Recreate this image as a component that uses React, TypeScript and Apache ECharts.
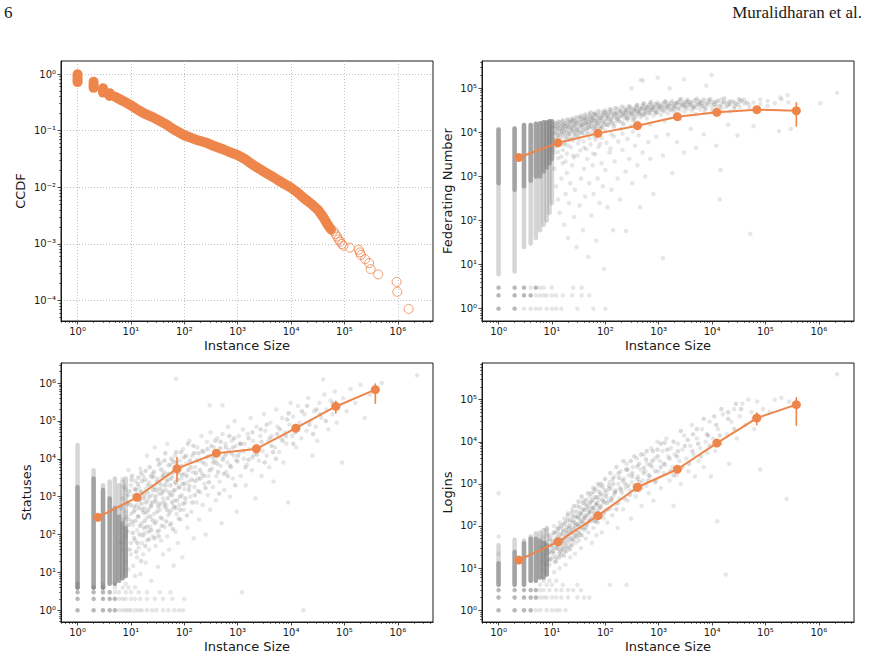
import React, { useEffect, useRef } from "react";
import * as echarts from "echarts";

type Pair = [number, number];

const ORANGE = "#EE854A";
const INK = "#1a1a1a";
const FONT = "DejaVu Sans";

// ---------- Panel 1: CCDF of instance size ----------
const ccdfHeadSize = [1, 2, 3, 4];
const ccdfHeadTop = [0.99, 0.73, 0.56, 0.46];
const ccdfHeadBottom = [0.72, 0.57, 0.47, 0.41];

const ccdfBody: Pair[] = [
  [5, 0.4], [6.3, 0.355], [8, 0.315], [10, 0.28], [13, 0.24], [18, 0.2], [25, 0.175],
  [32, 0.155], [45, 0.13], [63, 0.105], [100, 0.083], [160, 0.07], [250, 0.062],
  [320, 0.056], [500, 0.048], [700, 0.042], [1000, 0.037], [1400, 0.031], [1800, 0.026],
  [2400, 0.022], [3200, 0.0186], [4500, 0.0155], [5600, 0.0135], [7500, 0.0115],
  [10000, 0.0098], [13000, 0.0082], [18000, 0.0063], [24000, 0.0051], [32000, 0.004],
  [40000, 0.003], [50000, 0.0021], [56000, 0.0018],
];

const ccdfTail: Pair[] = [
  [62000, 0.0017], [68000, 0.0015], [73000, 0.00135], [78000, 0.0012], [83000, 0.0011],
  [90000, 0.001], [96000, 0.00093], [126000, 0.00086], [186000, 0.00079], [195000, 0.00071],
  [204000, 0.00064], [245000, 0.00054], [290000, 0.00046], [310000, 0.00036],
  [430000, 0.00029], [950000, 0.000214], [980000, 0.000143], [1600000, 0.0000714],
];

// ---------- Binned means shared by the three scatter panels ----------
const binSize = [2.4, 13, 73, 400, 2240, 12300, 69000, 380000];

const fedMean = [2700, 5800, 9500, 14200, 22700, 28500, 32700, 31000];
const fedLow = [2550, 5550, 9100, 13600, 21500, 27000, 30500, 13900];
const fedHigh = [2850, 6050, 9900, 14800, 23900, 30000, 35000, 47000];

const statMean = [284, 962, 5500, 14100, 18300, 64500, 241000, 668000];
const statLow = [240, 840, 2600, 11500, 15500, 52000, 162000, 295000];
const statHigh = [330, 1100, 10800, 17000, 21500, 80000, 331000, 944000];

const logMean = [15.5, 42, 176, 832, 2220, 9300, 36500, 76000];
const logLow = [14, 38, 160, 760, 2000, 8400, 25300, 24500];
const logHigh = [17, 46, 194, 910, 2450, 10300, 48000, 110000];

// ---------- Federating number ----------
const fedColSize = [1, 2, 3, 4, 5, 6, 7, 8, 9, 10];
const fedColFaintLow = [6, 7, 25, 30, 40, 60, 80, 100, 150, 250];
const fedColFaintHigh = [11700, 12300, 14700, 14700, 15800, 16200, 17000, 17000, 17800, 17800];
const fedColDenseLow = [700, 500, 600, 800, 1000, 1000, 1300, 1600, 2000, 2500];
const fedColDenseHigh = [11700, 12300, 14700, 14700, 15800, 16200, 17000, 17000, 17800, 17800];

const fedDotsDense: Pair[] = [
  [1, 1], [1, 2], [1, 3], [2, 1], [2, 2], [2, 3], [3, 2], [3, 3], [4, 2], [5, 3],
];
const fedDotsSparse: Pair[] = [
  [3, 1], [4, 1], [5, 1], [6, 1], [8, 1], [10, 1], [12, 1], [15, 1], [30, 1], [60, 1], [100, 1],
  [5, 2], [6, 2], [7, 2], [8, 2], [10, 2], [12, 2], [16, 2], [24, 2], [36, 2], [50, 2],
  [4, 3], [6, 3], [7, 3], [10, 3], [25, 3], [36, 3],
];
const fedCloud: Pair[] = [
  [11, 6000], [11, 9000], [11, 14000], [11, 3500], [12, 11000], [12, 16000], [12, 7500], [12, 4800],
  [13, 13000], [13, 8500], [13, 2600], [14, 17000], [14, 10000], [14, 6200], [14, 12000],
  [16, 15000], [16, 9000], [16, 4000], [16, 19000], [18, 12000], [18, 7000], [18, 16000], [18, 2200],
  [20, 18000], [20, 11000], [20, 8000], [20, 5000], [22, 14000], [22, 20000], [22, 9500],
  [25, 16000], [25, 12000], [25, 6500], [25, 21000], [25, 3000], [28, 13000], [28, 18000], [28, 9000],
  [32, 22000], [32, 15000], [32, 10500], [32, 7000], [36, 17000], [36, 12500], [36, 24000],
  [40, 19000], [40, 14000], [40, 8500], [40, 4500], [45, 23000], [45, 16000], [45, 11000],
  [50, 20000], [50, 26000], [50, 13000], [50, 7500], [56, 18000], [56, 22000], [56, 10000],
  [63, 25000], [63, 15000], [63, 28000], [63, 8000], [70, 17000], [70, 21000], [70, 12000],
  [80, 27000], [80, 19000], [80, 14000], [80, 5500], [90, 23000], [90, 30000], [90, 16000],
  [100, 25000], [100, 18000], [100, 11000], [100, 32000], [115, 21000], [115, 28000], [115, 14500],
  [130, 26000], [130, 19000], [130, 33000], [130, 9000], [150, 22000], [150, 30000], [150, 16000],
  [170, 27000], [170, 20000], [170, 35000], [200, 24000], [200, 31000], [200, 17000], [200, 12000],
  [230, 28000], [230, 21000], [230, 36000], [260, 25000], [260, 33000], [260, 19000],
  [300, 30000], [300, 23000], [300, 38000], [300, 14000], [350, 27000], [350, 34000], [350, 20000],
  [400, 31000], [400, 25000], [400, 42000], [400, 17000], [460, 28000], [460, 36000], [460, 22000],
  [530, 33000], [530, 26000], [530, 44000], [600, 30000], [600, 38000], [600, 21000],
  [700, 35000], [700, 27000], [700, 46000], [700, 15000], [800, 32000], [800, 40000], [800, 24000],
  [950, 36000], [950, 29000], [950, 48000], [1100, 33000], [1100, 43000], [1100, 25000],
  [1300, 38000], [1300, 30000], [1300, 50000], [1300, 18000], [1500, 35000], [1500, 45000], [1500, 27000],
  [1800, 40000], [1800, 31000], [1800, 52000], [2100, 37000], [2100, 47000], [2100, 28000],
  [2500, 42000], [2500, 33000], [2500, 55000], [2500, 20000], [3000, 38000], [3000, 48000], [3000, 30000],
  [3500, 43000], [3500, 34000], [3500, 56000], [4200, 40000], [4200, 50000], [4200, 31000],
  [5000, 44000], [5000, 36000], [5000, 26000], [6000, 41000], [6000, 52000], [6000, 33000],
  [7200, 46000], [7200, 37000], [7200, 29000], [8500, 42000], [8500, 54000], [10000, 45000],
  [10000, 36000], [10000, 30000], [12000, 48000], [12000, 40000], [15000, 44000], [15000, 35000],
  [15000, 56000], [18000, 47000], [18000, 38000], [22000, 43000], [22000, 52000], [22000, 30000],
  [27000, 46000], [27000, 40000], [33000, 50000], [33000, 38000], [40000, 45000], [40000, 55000],
  [50000, 42000], [50000, 35000], [60000, 48000], [80000, 44000], [80000, 56000], [110000, 52000],
  [110000, 40000], [150000, 46000], [200000, 56000], [270000, 48000],
  [10.5, 4200], [13, 3600], [15, 2800], [17, 5200], [19, 3300], [23, 4600], [26, 2700], [31, 5600],
  [34, 3900], [39, 6400], [44, 4200], [53, 5300], [59, 3300], [66, 6900], [75, 4700], [86, 7600],
  [105, 5800], [125, 4300], [145, 8200], [175, 6200], [210, 9400], [260, 7100], [330, 10400],
  [420, 8600],
  [11, 1500], [12, 600], [13, 300], [14, 150], [15, 900], [16, 2000], [17, 80], [18, 400], [19, 1200],
  [20, 40], [21, 250], [22, 700], [24, 1800], [26, 120], [27, 500], [29, 25], [30, 3000], [33, 220],
  [35, 900], [38, 60], [40, 1500], [42, 350], [46, 2500], [48, 15], [50, 700], [55, 130], [58, 1800],
  [60, 400], [65, 3200], [68, 35], [72, 900], [78, 250], [85, 2000], [90, 600], [95, 8], [100, 1400],
  [110, 200], [120, 3500], [130, 500], [140, 60], [150, 2200], [170, 900], [190, 300], [210, 4000],
  [240, 1300], [245, 58], [280, 2500], [320, 700], [360, 5000], [400, 1800], [450, 200], [500, 3500],
  [560, 1000], [640, 6000], [700, 2500], [800, 400], [900, 8000], [1200, 14], [1200, 3000],
  [1500, 9000], [1800, 1200], [2200, 6000], [3000, 3500], [4000, 12000], [5000, 4500], [7000, 9000],
  [14000, 300], [14500, 1400], [12000, 5000], [20000, 15000], [30000, 8500], [52000, 50],
  [60000, 14000], [180000, 10700], [300000, 12000], [1070000, 46000], [2200000, 79000],
  [310, 100000], [460, 155000], [510, 150000], [960, 175000], [1600, 100000], [3000, 160000],
  [7800, 115000], [9800, 200000], [190000, 62000], [260000, 70000],
];
const fedCloudCore: Pair[] = [
  [10.5, 9500], [11.5, 12500], [12.5, 5200], [13.5, 15000], [14.5, 7800], [15.5, 11000], [16.5, 13500],
  [17.5, 5800], [19, 9800], [19.5, 14500], [21, 6800], [21.5, 16500], [23, 11500], [23.5, 7200],
  [24, 19000], [26, 14200], [27, 10000], [29, 16800], [30, 12000], [31, 8200], [34, 13800], [35, 19500],
  [37, 9800], [38, 15500], [41, 21500], [43, 12200], [44, 17500], [47, 9400], [49, 14800], [52, 23500],
  [54, 16800], [58, 12500], [60, 20500], [61, 26000], [66, 14000], [68, 18500], [73, 24000], [75, 10500],
  [77, 16500], [84, 21000], [87, 13000], [95, 27500], [98, 15000], [105, 20500], [110, 24500],
  [120, 17000], [125, 29000], [140, 23500], [145, 13500], [160, 27000], [165, 19500], [185, 31500],
  [190, 22500], [215, 26500], [220, 15500], [245, 30000], [250, 22000], [280, 27500], [290, 35000],
  [320, 25500], [330, 19000], [370, 31000], [380, 37000], [430, 27000], [440, 33500], [490, 24500],
  [500, 40000], [560, 31000], [570, 36000], [650, 27500], [660, 42000], [750, 33000], [760, 38500],
  [870, 29500], [880, 44000], [1000, 35000], [1050, 39000], [1200, 31500], [1250, 45500], [1400, 36500],
  [1450, 41000], [1650, 33000], [1700, 47000], [1950, 38500], [2000, 43500], [2300, 35000],
  [2350, 49000], [2700, 40500], [2800, 45500], [3200, 37000], [3300, 51000], [3800, 42000],
  [4000, 46500], [4600, 38500], [4800, 53000], [5500, 43000], [5800, 48000], [6600, 39500],
  [7000, 55000], [8000, 45000], [9000, 50000], [11000, 42500], [13000, 52000], [16500, 48500],
  [20000, 41000], [25000, 50000], [30000, 44000], [36000, 53000], [45000, 47000],
  [10.2, 13000], [10.8, 7000], [11.2, 16500], [11.8, 10200], [12.2, 13800], [12.8, 8800], [13.2, 17500],
  [13.8, 11800], [14.2, 5400], [15, 14200], [15.2, 9600], [15.8, 17800], [16.2, 12200], [17, 10400],
  [17.2, 15800], [17.8, 8200], [18.5, 13600], [19.2, 19500], [20.5, 12800], [21.2, 9200], [22.5, 17200],
  [23.2, 13200], [24.5, 10800], [25.5, 18500], [26.5, 8400], [27.5, 15200], [28.5, 21800], [29.5, 11200],
  [31.5, 17600], [33, 9800], [34.5, 22500], [36.5, 14800], [38.5, 11200], [39.5, 19800], [42, 25500],
  [43.5, 15800], [46, 20200], [48, 12800], [51, 17800], [53, 28500], [55, 14200], [57, 21200],
  [62, 18200], [64, 11800], [67, 25500], [71, 15200], [74, 30500], [79, 20800], [82, 12400], [88, 24200],
  [92, 17600], [102, 28800], [108, 14800], [112, 22800], [122, 33500], [128, 20000], [135, 16200],
  [148, 26800], [155, 35500], [168, 23200], [180, 18200], [195, 28800], [205, 38500], [225, 24800],
  [240, 32200], [265, 20800], [275, 39500], [310, 28200], [340, 33200], [360, 22500], [390, 41500],
  [420, 29200], [480, 34200], [520, 46000], [550, 25800], [620, 37200], [680, 31800], [720, 49000],
  [820, 36200], [900, 27600], [980, 42200], [1150, 37800], [1350, 51000], [1600, 40200], [1900, 33800],
  [2200, 46200], [2600, 57000], [3100, 41800], [3600, 49800], [4400, 36000], [5200, 58000],
  [6300, 46800], [7600, 34500], [9200, 57500], [11000, 49500], [14000, 39000], [17000, 59000],
  [21000, 47500], [26000, 36000], [32000, 57000],
];

// ---------- Statuses ----------
const statColSize = [1, 2, 3, 4, 5, 6, 7, 8];
const statColFaintLow = [4, 4, 4, 5, 5, 6, 7, 8];
const statColFaintHigh = [23000, 5000, 2000, 2500, 3000, 2000, 2500, 3000];
const statColDenseLow = [4, 4, 4, 5, 5, 6, 7, 8];
const statColDenseHigh = [1800, 3000, 1500, 900, 500, 300, 200, 150];

const statDotsDense: Pair[] = [
  [1, 1], [1, 2], [1, 3], [1, 4], [1, 5], [2, 1], [2, 2], [2, 3], [2, 4], [3, 1], [3, 2], [3, 3],
  [3, 4], [4, 1], [4, 2], [4, 3], [5, 1], [5, 2],
];
const statDotsSparse: Pair[] = [
  [6, 1], [7, 1], [8, 1], [9, 1], [10, 1], [12, 1], [14, 1], [16, 1], [20, 1], [25, 1], [30, 1],
  [40, 1], [50, 1], [65, 1], [80, 1], [95, 1], [6, 2], [7, 2], [8, 2], [10, 2], [12, 2], [15, 2],
  [20, 2], [28, 2], [40, 2], [60, 2], [100, 2], [5, 3], [6, 3], [8, 3], [10, 3], [14, 3], [20, 3],
  [35, 3], [55, 3], [5, 4], [7, 4], [9, 4], [12, 4], [3, 5], [5, 5], [8, 5],
];
const statCloud: Pair[] = [
  [7, 150], [7, 900], [7, 40], [7, 3000], [8, 20], [8, 400], [8, 1500], [8, 90], [9, 12], [9, 250],
  [9, 700], [9, 5000], [10, 60], [10, 2000], [10, 30], [10, 350], [11, 15], [11, 1100], [11, 180],
  [12, 450], [12, 8], [12, 2600], [12, 70], [13, 25], [13, 600], [13, 130], [14, 1800], [14, 45],
  [14, 300], [15, 9], [15, 900], [15, 5500], [16, 200], [16, 60], [16, 1300], [17, 30], [17, 3500],
  [18, 500], [18, 110], [19, 18], [19, 1600], [20, 280], [20, 12000], [20, 70], [21, 800], [22, 2400],
  [22, 40], [23, 160], [24, 600], [24, 6], [25, 1100], [25, 4000], [26, 90], [27, 350], [28, 20000],
  [28, 1800], [29, 50], [30, 700], [30, 220], [32, 3000], [32, 14], [33, 1200], [34, 130], [35, 450],
  [36, 8000], [37, 70], [38, 2000], [39, 260], [40, 900], [40, 30], [42, 4500], [43, 160], [45, 1500],
  [46, 600], [48, 25000], [48, 90], [50, 2800], [50, 320], [52, 40], [54, 1100], [56, 7000], [57, 200],
  [58, 450], [60, 3500], [62, 1400], [63, 15], [65, 800], [67, 12000], [68, 120], [70, 2200], [72, 350],
  [74, 5000], [76, 60], [78, 1700], [80, 600], [82, 9000], [85, 250], [88, 3000], [90, 1100], [92, 25],
  [95, 18000], [97, 450], [100, 4000], [100, 1600], [105, 700], [110, 7500], [115, 150], [120, 2500],
  [125, 30000], [130, 1000], [135, 400], [140, 12000], [145, 4500], [150, 80], [155, 1800], [160, 6000],
  [170, 700], [175, 20000], [180, 3000], [190, 250], [195, 9000], [200, 1300], [210, 40000], [215, 4000],
  [220, 600], [230, 15000], [240, 2200], [250, 100], [255, 7000], [265, 28000], [275, 1100], [285, 3500],
  [295, 12000], [305, 450], [310, 50000], [330, 5500], [345, 1800], [360, 20000], [375, 9000], [390, 800],
  [400, 3500], [420, 35000], [440, 14000], [460, 2500], [480, 6500], [500, 200], [520, 45000],
  [540, 11000], [560, 1500], [590, 25000], [610, 4500], [640, 8000], [660, 70000], [690, 17000],
  [720, 1000], [750, 6000], [780, 30000], [810, 3000], [850, 12000], [880, 100000], [920, 22000],
  [960, 400], [1000, 8500], [1050, 40000], [1100, 15000], [1150, 3500], [1200, 3], [1250, 60000],
  [1300, 10000], [1350, 25000], [1420, 2000], [1500, 7000], [1550, 45000], [1650, 18000],
  [1750, 120000], [1850, 5000], [1950, 30000], [2050, 13000], [2150, 900], [2250, 70000], [2400, 22000],
  [2500, 9000], [2650, 40000], [2800, 3500], [2950, 16000], [3100, 150000], [3300, 55000], [3500, 12000],
  [3700, 28000], [3900, 6000], [4100, 90000], [4400, 40000], [4700, 2500], [5000, 20000], [5300, 200000],
  [5600, 70000], [6000, 15000], [6400, 35000], [6800, 120000], [7200, 8000], [7700, 50000], [8200, 25000],
  [8800, 700], [9300, 80000], [9800, 300000], [10500, 40000], [11000, 130000], [11800, 60000],
  [12500, 20000], [13500, 250000], [14500, 90000], [15500, 35000], [17000, 1], [18000, 150000],
  [19500, 55000], [21000, 400000], [23000, 100000], [25000, 12000], [27000, 180000], [29000, 70000],
  [31000, 30000], [34000, 300000], [37000, 120000], [40000, 1250000], [42000, 500000], [46000, 200000],
  [50000, 60000], [55000, 350000], [60000, 150000], [66000, 600000], [72000, 90000], [80000, 250000],
  [90000, 8000], [95000, 400000], [110000, 180000], [130000, 700000], [160000, 300000], [200000, 900000],
  [240000, 120000], [300000, 500000], [500000, 1000000], [2300000, 1600000], [70, 1300000],
  [300, 260000], [520, 260000],
];
const statCloudCore: Pair[] = [
  [6.5, 500], [6.5, 60], [7.5, 250], [7.5, 1800], [8.5, 120], [8.5, 650], [9.5, 40], [9.5, 1400],
  [10.5, 220], [10.5, 3500], [11.5, 80], [11.5, 550], [12.5, 1500], [12.5, 35], [13.5, 300],
  [13.5, 2200], [14.5, 100], [14.5, 800], [15.5, 20], [15.5, 4200], [16.5, 450], [17.5, 150],
  [17.5, 900], [18.5, 2800], [18.5, 50], [19.5, 380], [20.5, 1300], [21.5, 120], [22.5, 6000],
  [23.5, 550], [24.5, 1900], [25.5, 240], [26.5, 3300], [27.5, 80], [28.5, 800], [29.5, 1500],
  [31, 400], [32, 9500], [33, 90], [34, 2300], [35, 650], [37, 5200], [38, 170], [40, 1400], [41, 3800],
  [43, 550], [44, 14000], [46, 220], [47, 2600], [49, 900], [51, 6800], [53, 380], [55, 2000],
  [57, 10000], [59, 700], [61, 140], [63, 4500], [66, 1500], [69, 500], [71, 8000], [75, 2800],
  [79, 260], [83, 1000], [87, 15000], [91, 3800], [96, 650], [102, 2200], [108, 12000], [112, 320],
  [118, 5000], [123, 1500], [128, 9000], [138, 2800], [148, 22000], [158, 1100], [165, 4200],
  [185, 14000], [200, 3000], [225, 8000], [250, 1700], [270, 18000], [300, 5000], [340, 11000],
  [380, 30000], [410, 7500], [450, 1200], [470, 19000], [550, 4000], [600, 13000], [700, 40000],
  [730, 6500], [820, 20000], [900, 2000], [1020, 12000], [1150, 25000], [1400, 6000], [1600, 35000],
  [1900, 11000], [2200, 22000], [2700, 60000], [3200, 8000], [4000, 35000], [4600, 15000],
  [5500, 45000], [7000, 30000], [8500, 110000], [12000, 50000], [16000, 180000], [22000, 80000],
  [30000, 200000], [45000, 100000],
  [8.2, 300], [8.8, 1100], [9.2, 180], [9.8, 600], [10.2, 2800], [10.8, 110], [11.2, 400], [11.8, 1600],
  [12.2, 230], [12.8, 900], [13.2, 60], [13.8, 3200], [14.2, 500], [14.8, 170], [15.2, 1400], [15.8, 650],
  [16.2, 2600], [16.8, 95], [17.2, 380], [17.8, 1100], [18.2, 230], [18.8, 4800], [19.2, 700],
  [19.8, 160], [20.8, 2000], [21.2, 450], [21.8, 75], [22.2, 1000], [23, 300], [23.8, 3400], [24.2, 130],
  [25, 700], [26, 1500], [27, 4500], [28, 200], [29, 1000], [30.5, 2500], [31.5, 120], [32.5, 550],
  [33.5, 7000], [34.5, 1600], [36, 280], [37.5, 1200], [39, 3300], [41.5, 700], [42.5, 9000],
  [44.5, 2000], [47.5, 450], [49.5, 4000], [52, 1300], [54.5, 180], [56.5, 3000], [59.5, 1100],
  [62, 8500], [64.5, 550], [67.5, 2400], [70.5, 15000], [73, 800], [77, 4200], [81, 1800], [84, 450],
  [89, 6500], [93, 2200], [99, 11000], [104, 900], [111, 3500], [117, 25000], [124, 1900], [131, 6000],
  [142, 700], [152, 14000], [162, 2600], [172, 9000], [182, 1400], [198, 5000], [218, 16000],
  [235, 3500], [262, 11000], [290, 2400], [320, 22000], [350, 8000], [400, 15000], [430, 4500],
  [480, 28000], [530, 9500], [600, 20000], [650, 3500], [760, 14000], [860, 35000], [950, 9000],
  [1100, 25000], [1300, 16000], [1600, 9500], [1900, 50000], [2300, 13000], [2800, 28000],
  [3500, 80000], [4300, 22000], [5200, 10000], [6200, 60000], [8000, 40000], [9000, 160000],
  [11000, 25000], [14000, 70000], [20000, 250000], [26000, 45000], [35000, 150000], [60000, 300000],
];

// ---------- Logins ----------
const logColSize = [1, 2, 3, 4, 5, 6, 7, 8];
const logColFaintLow = [4, 4, 4, 5, 5, 6, 6, 7];
const logColFaintHigh = [35, 47, 45, 56, 67, 70, 80, 90];
const logColDenseLow = [4, 4, 4, 5, 5, 6, 6, 7];
const logColDenseHigh = [13, 24, 39, 50, 50, 45, 40, 35];

const logDotsDense: Pair[] = [
  [1, 1], [1, 2], [1, 3], [2, 1], [2, 2], [2, 3], [3, 1], [3, 2], [3, 3], [4, 1], [4, 2], [4, 3],
  [5, 2], [5, 3],
];
const logDotsSparse: Pair[] = [
  [5, 1], [6, 1], [8, 1], [10, 1], [12, 1], [14, 1], [18, 1], [6, 2], [7, 2], [8, 2], [10, 2], [12, 2],
  [15, 2], [20, 2], [30, 2], [40, 2], [50, 2], [6, 3], [7, 3], [9, 3], [12, 3], [15, 3], [20, 3], [25, 3],
  [35, 3], [6, 4], [8, 4], [10, 4], [16, 4], [30, 4], [122, 4], [250, 4], [7, 5], [9, 5], [12, 5],
];
const logCloud: Pair[] = [
  [1, 600], [1, 56], [1, 22], [7, 20], [7, 55], [7, 9], [8, 35], [8, 14], [8, 80], [9, 25], [9, 45],
  [9, 12], [10, 18], [10, 60], [10, 30], [11, 100], [11, 22], [11, 8], [12, 40], [12, 15], [13, 70],
  [13, 28], [14, 50], [14, 120], [14, 10], [15, 35], [15, 20], [16, 85], [16, 45], [17, 25], [17, 150],
  [18, 60], [18, 12], [19, 40], [19, 95], [20, 30], [20, 200], [21, 70], [22, 18], [22, 120], [23, 50],
  [24, 250], [24, 35], [25, 90], [26, 60], [27, 160], [27, 22], [28, 40], [29, 110], [30, 300], [30, 70],
  [32, 45], [33, 150], [34, 90], [35, 30], [36, 220], [37, 60], [38, 130], [39, 400], [40, 80],
  [42, 180], [43, 50], [45, 110], [46, 300], [48, 70], [50, 200], [52, 500], [54, 130], [56, 40],
  [58, 260], [60, 90], [62, 650], [64, 170], [66, 330], [68, 60], [70, 220], [73, 120], [76, 420],
  [78, 900], [80, 180], [83, 280], [86, 70], [90, 550], [93, 150], [96, 350], [100, 230], [105, 600],
  [110, 120], [115, 400], [120, 1100], [125, 260], [130, 800], [135, 180], [140, 500], [148, 1500],
  [155, 330], [160, 700], [170, 90], [175, 1000], [185, 450], [195, 2000], [205, 600], [215, 250],
  [225, 1300], [240, 800], [250, 3000], [260, 400], [275, 1600], [290, 700], [305, 150], [315, 1100],
  [330, 2500], [350, 900], [370, 500], [390, 4000], [410, 1500], [430, 700], [455, 2200], [480, 300],
  [500, 1200], [530, 5000], [560, 2000], [590, 900], [620, 3000], [650, 600], [690, 1500], [720, 7000],
  [760, 2500], [800, 400], [850, 4000], [900, 1200], [950, 10000], [990, 2000], [1050, 3500],
  [1100, 800], [1180, 6000], [1250, 1800], [1330, 2800], [1400, 12000], [1500, 4500], [1600, 1200],
  [1700, 7000], [1800, 2500], [1900, 300], [2000, 5000], [2150, 1600], [2300, 9000], [2450, 3500],
  [2600, 1000], [2800, 6500], [3000, 14000], [3300, 4000], [3600, 2000], [3900, 8000], [4200, 25000],
  [4500, 5000], [4800, 1500], [5200, 12000], [5600, 3500], [6000, 7000], [6500, 20000], [7000, 2500],
  [7600, 10000], [8200, 5500], [9000, 30000], [9500, 1500], [10500, 12000], [11500, 6000], [12500, 130],
  [13000, 20000], [14500, 9000], [16000, 45000], [18000, 7], [19000, 15000], [21000, 3000],
  [23000, 30000], [26000, 60000], [29000, 12000], [33000, 40000], [37000, 80000], [42000, 25000],
  [48000, 100000], [55000, 50000], [62000, 20000], [70000, 90000], [80000, 2200], [90000, 60000],
  [120000, 50000], [150000, 100000], [200000, 110000], [250000, 440], [280000, 90000],
  [2200000, 400000],
];
const logCloudCore: Pair[] = [
  [6.5, 15], [6.5, 30], [7.5, 12], [7.5, 40], [8.5, 22], [8.5, 60], [9.5, 16], [9.5, 35], [10.5, 25],
  [10.5, 45], [11.5, 14], [11.5, 70], [12.5, 30], [12.5, 55], [13.5, 18], [13.5, 90], [14.5, 40],
  [14.5, 25], [15.5, 65], [16.5, 30], [16.5, 110], [17.5, 50], [18.5, 80], [18.5, 25], [19.5, 140],
  [20.5, 45], [21.5, 100], [22.5, 35], [23.5, 70], [24.5, 170], [25.5, 50], [26.5, 120], [27.5, 80],
  [28.5, 220], [29.5, 55], [31, 160], [32, 100], [33, 280], [34, 60], [35, 190], [37, 120], [38, 350],
  [40, 150], [41, 240], [43, 90], [44, 420], [46, 180], [47, 270], [49, 130], [51, 350], [53, 220],
  [55, 600], [57, 160], [59, 420], [61, 260], [63, 130], [65, 750], [68, 320], [71, 480], [74, 200],
  [77, 650], [81, 300], [85, 1000], [89, 420], [94, 200], [99, 700], [108, 350], [118, 900],
  [128, 450], [138, 1300], [150, 600], [162, 250], [178, 1800], [190, 800], [210, 1200], [230, 450],
  [245, 2200], [270, 900], [300, 3500], [320, 1500], [360, 700], [400, 2600], [440, 1100], [470, 5000],
  [520, 1800], [580, 3800], [640, 1200], [700, 2800], [780, 6000], [870, 2000], [960, 4500],
  [1100, 9000], [1250, 3000], [1450, 6500], [1650, 2000], [1900, 10000], [2200, 4500], [2600, 18000],
  [3100, 8000], [3700, 3000], [4400, 15000], [5500, 9000], [7000, 35000], [8500, 14000],
  [12000, 25000], [15000, 60000], [20000, 35000], [28000, 80000],
  [8.2, 28], [8.8, 16], [9.2, 50], [9.8, 24], [10.2, 38], [10.8, 70], [11.2, 30], [11.8, 18],
  [12.2, 48], [12.8, 85], [13.2, 35], [13.8, 22], [14.2, 60], [14.8, 100], [15.2, 28], [15.8, 45],
  [16.2, 75], [16.8, 20], [17.2, 38], [17.8, 120], [18.2, 55], [18.8, 32], [19.2, 70], [19.8, 180],
  [20.8, 90], [21.2, 55], [21.8, 28], [22.2, 140], [23, 80], [23.8, 210], [24.2, 45], [25, 130],
  [26, 300], [27, 100], [28, 60], [29, 170], [30.5, 110], [31.5, 380], [32.5, 70], [33.5, 200],
  [34.5, 130], [36, 500], [37.5, 90], [39, 250], [41.5, 160], [42.5, 330], [44.5, 110], [47.5, 600],
  [49.5, 220], [52, 140], [54.5, 380], [56.5, 280], [59.5, 800], [62, 200], [64.5, 480], [67.5, 130],
  [70.5, 350], [73, 1000], [77, 260], [81, 560], [84, 180], [89, 850], [93, 380], [99, 1300],
  [104, 500], [111, 250], [117, 750], [124, 1800], [131, 400], [142, 1000], [152, 650], [162, 2500],
  [172, 350], [182, 1400], [198, 700], [218, 3500], [235, 1000], [262, 2200], [290, 550], [320, 1800],
  [350, 4500], [400, 1300], [430, 3000], [480, 800], [530, 2400], [600, 6000], [650, 1600], [760, 3500],
  [860, 1100], [950, 6500], [1100, 2500], [1300, 9500], [1600, 4000], [1900, 1600], [2300, 6000],
  [2800, 2500], [3500, 11000], [4300, 6000], [5200, 20000], [6200, 4500], [8000, 15000], [9000, 8000],
  [11000, 40000], [14000, 14000], [20000, 50000], [26000, 20000], [35000, 60000], [60000, 35000],
];

// ---------- helpers ----------
const SUP: Record<string, string> = {
  "-": "\u207B", "0": "\u2070", "1": "\u00B9", "2": "\u00B2", "3": "\u00B3",
  "4": "\u2074", "5": "\u2075", "6": "\u2076", "7": "\u2077", "8": "\u2078", "9": "\u2079",
};
const powLabel = (v: number) =>
  "10" + String(Math.round(v)).split("").map((c) => SUP[c] ?? c).join("");

const lg = (v: number) => Math.log10(v);
const logPair = (p: Pair): Pair => [lg(p[0]), lg(p[1])];

const range = (a: number, b: number) => {
  const out: number[] = [];
  for (let i = a; i <= b; i++) out.push(i);
  return out;
};
const minorTicks = (min: number, max: number) => {
  const out: number[] = [];
  for (let n = Math.floor(min); n <= Math.ceil(max); n++) {
    for (let k = 2; k <= 9; k++) {
      const v = n + Math.log10(k);
      if (v > min && v < max) out.push(v);
    }
  }
  return out;
};

const X_MIN = -0.31;
const X_MAX = 6.66;

function majorAxis(
  dim: "x" | "y",
  gridIndex: number,
  min: number,
  max: number,
  ticks: number[],
  name: string,
  nameGap: number,
  gridLines: boolean
) {
  return {
    type: "value",
    gridIndex,
    min,
    max,
    position: dim === "x" ? "bottom" : "left",
    name,
    nameLocation: "middle",
    nameGap,
    nameTextStyle: { fontFamily: FONT, fontSize: 13, color: INK },
    axisLine: { show: true, onZero: false, lineStyle: { color: INK, width: 1 } },
    axisTick: {
      show: true,
      inside: false,
      length: 3.5,
      customValues: ticks,
      lineStyle: { color: INK, width: 0.8 },
    },
    axisLabel: {
      show: true,
      customValues: ticks,
      formatter: (v: number) => powLabel(v),
      fontFamily: FONT,
      fontSize: 10,
      color: INK,
      margin: 5,
    },
    splitLine: {
      show: gridLines,
      lineStyle: { color: "#b0b0b0", type: [1, 2], width: 0.8 },
    },
  };
}

function minorAxis(dim: "x" | "y", gridIndex: number, min: number, max: number) {
  return {
    type: "value",
    gridIndex,
    min,
    max,
    position: dim === "x" ? "bottom" : "left",
    axisLine: { show: false, onZero: false },
    axisTick: {
      show: true,
      inside: false,
      length: 2,
      customValues: minorTicks(min, max),
      lineStyle: { color: INK, width: 0.6 },
    },
    axisLabel: { show: false },
    splitLine: { show: false },
  };
}

// vertical segment drawn through the axes' scales
const segmentSeries = (
  xAxisIndex: number,
  yAxisIndex: number,
  data: number[][],
  stroke: string,
  lineWidth: number,
  z: number
) => ({
  type: "custom",
  xAxisIndex,
  yAxisIndex,
  z,
  silent: true,
  encode: { x: 0, y: [1, 2] },
  data,
  renderItem: (_params: any, api: any) => {
    const a = api.coord([api.value(0), api.value(1)]);
    const b = api.coord([api.value(0), api.value(2)]);
    return {
      type: "line",
      shape: { x1: a[0], y1: a[1], x2: b[0], y2: b[1] },
      style: { stroke, lineWidth, lineCap: "round" },
    };
  },
});

const columns = (size: number[], low: number[], high: number[]) =>
  size.map((s, i) => [lg(s), lg(low[i]), lg(high[i])]);

interface ScatterPanel {
  grid: number;
  yMin: number;
  yMax: number;
  name: string;
  nameGap: number;
  colSize: number[];
  colFaintLow: number[];
  colFaintHigh: number[];
  colDenseLow: number[];
  colDenseHigh: number[];
  dotsDense: Pair[];
  dotsSparse: Pair[];
  cloud: Pair[];
  core: Pair[];
  mean: number[];
  low: number[];
  high: number[];
}

const panels: ScatterPanel[] = [
  {
    grid: 1, yMin: -0.28, yMax: 5.62, name: "Federating Number", nameGap: 28,
    colSize: fedColSize, colFaintLow: fedColFaintLow, colFaintHigh: fedColFaintHigh,
    colDenseLow: fedColDenseLow, colDenseHigh: fedColDenseHigh,
    dotsDense: fedDotsDense, dotsSparse: fedDotsSparse, cloud: fedCloud, core: fedCloudCore,
    mean: fedMean, low: fedLow, high: fedHigh,
  },
  {
    grid: 2, yMin: -0.31, yMax: 6.53, name: "Statuses", nameGap: 28,
    colSize: statColSize, colFaintLow: statColFaintLow, colFaintHigh: statColFaintHigh,
    colDenseLow: statColDenseLow, colDenseHigh: statColDenseHigh,
    dotsDense: statDotsDense, dotsSparse: statDotsSparse, cloud: statCloud, core: statCloudCore,
    mean: statMean, low: statLow, high: statHigh,
  },
  {
    grid: 3, yMin: -0.28, yMax: 5.87, name: "Logins", nameGap: 28,
    colSize: logColSize, colFaintLow: logColFaintLow, colFaintHigh: logColFaintHigh,
    colDenseLow: logColDenseLow, colDenseHigh: logColDenseHigh,
    dotsDense: logDotsDense, dotsSparse: logDotsSparse, cloud: logCloud, core: logCloudCore,
    mean: logMean, low: logLow, high: logHigh,
  },
];

const grayDots = (xi: number, yi: number, data: Pair[], alpha: number) => ({
  type: "scatter",
  xAxisIndex: xi,
  yAxisIndex: yi,
  data: data.map(logPair),
  symbolSize: 4.5,
  z: 2,
  silent: true,
  progressive: 0,
  itemStyle: { color: `rgba(128,128,128,${alpha})` },
});

function buildOption() {
  const grids = [
    { left: 61, top: 61, width: 372, height: 260 },
    { left: 482, top: 61, width: 372, height: 260 },
    { left: 61, top: 363, width: 372, height: 259 },
    { left: 482, top: 363, width: 372, height: 259 },
  ].map((g) => ({ ...g, show: true, borderColor: INK, borderWidth: 1, backgroundColor: "#fff" }));

  const xAxes: any[] = [];
  const yAxes: any[] = [];
  const series: any[] = [];

  // Panel 1 axes
  xAxes.push(majorAxis("x", 0, X_MIN, X_MAX, range(0, 6), "Instance Size", 18, true));
  xAxes.push(minorAxis("x", 0, X_MIN, X_MAX));
  yAxes.push(majorAxis("y", 0, -4.36, 0.23, range(-4, 0), "CCDF", 34, true));
  yAxes.push(minorAxis("y", 0, -4.36, 0.23));

  series.push(
    segmentSeries(0, 0, columns(ccdfHeadSize, ccdfHeadTop, ccdfHeadBottom), ORANGE, 10, 3)
  );
  series.push({
    type: "line",
    xAxisIndex: 0,
    yAxisIndex: 0,
    data: ccdfBody.map(logPair),
    showSymbol: false,
    symbol: "none",
    z: 3,
    lineStyle: { color: ORANGE, width: 10, cap: "round", join: "round" },
  });
  series.push({
    type: "scatter",
    xAxisIndex: 0,
    yAxisIndex: 0,
    data: ccdfTail.map(logPair),
    symbol: "circle",
    symbolSize: 9,
    z: 4,
    itemStyle: { color: "rgba(0,0,0,0)", borderColor: ORANGE, borderWidth: 1 },
  });

  // Panels 2-4
  panels.forEach((p) => {
    const xi = p.grid * 2;
    const yi = p.grid * 2;
    xAxes.push(majorAxis("x", p.grid, X_MIN, X_MAX, range(0, 6), "Instance Size", 18, false));
    xAxes.push(minorAxis("x", p.grid, X_MIN, X_MAX));
    const yTicks = range(0, Math.floor(p.yMax));
    yAxes.push(majorAxis("y", p.grid, p.yMin, p.yMax, yTicks, p.name, p.nameGap, false));
    yAxes.push(minorAxis("y", p.grid, p.yMin, p.yMax));

    series.push(
      segmentSeries(xi, yi, columns(p.colSize, p.colFaintLow, p.colFaintHigh),
        "rgba(128,128,128,0.32)", 4.5, 1)
    );
    series.push(
      segmentSeries(xi, yi, columns(p.colSize, p.colDenseLow, p.colDenseHigh),
        "rgba(128,128,128,0.6)", 4.5, 1)
    );
    series.push(grayDots(xi, yi, p.cloud.concat(p.dotsSparse), 0.25));
    series.push(grayDots(xi, yi, p.core, 0.36));
    series.push(grayDots(xi, yi, p.dotsDense, 0.7));
    series.push(segmentSeries(xi, yi, columns(binSize, p.low, p.high), ORANGE, 1.6, 4));
    series.push({
      type: "line",
      xAxisIndex: xi,
      yAxisIndex: yi,
      data: binSize.map((s, i) => [lg(s), lg(p.mean[i])]),
      symbol: "circle",
      symbolSize: 9,
      z: 5,
      lineStyle: { color: ORANGE, width: 2 },
      itemStyle: { color: ORANGE },
    });
  });

  return {
    animation: false,
    backgroundColor: "#fff",
    textStyle: { fontFamily: FONT },
    grid: grids,
    xAxis: xAxes,
    yAxis: yAxes,
    series,
    graphic: [
      {
        type: "text",
        left: 4,
        top: 4,
        style: { text: "6", font: '17px "Liberation Serif"', fill: INK },
      },
      {
        type: "text",
        right: 7,
        top: 4,
        style: { text: "Muralidharan et al.", font: '17px "Liberation Serif"', fill: INK },
      },
    ],
  };
}

export default function App() {
  const ref = useRef<HTMLDivElement>(null);
  useEffect(() => {
    if (!ref.current) return;
    const chart = echarts.init(ref.current, undefined, { renderer: "svg" });
    chart.setOption(buildOption() as any);
    return () => chart.dispose();
  }, []);
  return (
    <div
      ref={ref}
      style={{ position: "fixed", left: 0, top: 0, width: 869, height: 659, background: "#fff" }}
    />
  );
}
